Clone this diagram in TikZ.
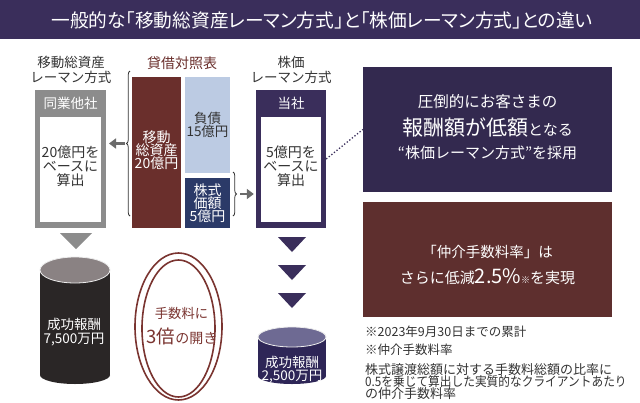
\documentclass[tikz,border=0pt]{standalone}
\usepackage{fontspec}
\setmainfont{Noto Sans CJK JP}
\newfontfamily\paltfont{Noto Sans CJK JP}[RawFeature=+palt]
\usetikzlibrary{arrows.meta,decorations.pathreplacing}
\definecolor{tpurple}{HTML}{3A2E5B}
\definecolor{bpurple}{HTML}{33294F}
\definecolor{gbox}{HTML}{8C8C8C}
\definecolor{brownA}{HTML}{6A2F2C}
\definecolor{brownB}{HTML}{5E2F2E}
\definecolor{lblue}{HTML}{BCCBE3}
\definecolor{navyb}{HTML}{2B3A68}
\definecolor{txt}{HTML}{333333}
\definecolor{cylblack}{HTML}{2A2626}
\definecolor{cyltopG}{HTML}{8A8283}
\definecolor{cyltopP}{HTML}{6E6A93}
\definecolor{cylP}{HTML}{2E2657}
\definecolor{arrowgray}{HTML}{6B6B6B}
\definecolor{ovalbrown}{HTML}{7A3430}
\newcommand{\fsz}[2]{\fontsize{#1}{#2}\selectfont}
\tikzset{
  lbl/.style={inner sep=0pt, align=center, text=txt},
  wtxt/.style={inner sep=0pt, align=center, text=white},
  fatarrow/.style={draw=arrowgray, line width=2.8pt, -{Triangle[length=7pt,width=10pt]}},
  bracestyle/.style={draw=txt, line width=0.8pt, decorate, decoration={brace, amplitude=3.5pt}},
  ring/.style={draw=ovalbrown, line width=1.6pt},
}
\begin{document}
\begin{tikzpicture}[x=1pt,y=-1pt]
\useasboundingbox (0,0) rectangle (640,402);
\fill[white] (0,0) rectangle (640,402);
% title bar
\fill[tpurple] (0,0) rectangle (640,39);
\node[wtxt, font=\paltfont\fsz{18.7}{20}] (title) at (322,20) {一般的な「移動総資産レーマン方式」と「株価レーマン方式」との違い};

% ---------- left column
\node[lbl, font=\fsz{13.5}{15}] (lblL) at (71,70) {移動総資産\\レーマン方式};
\node[fill=gbox, minimum width=71pt, minimum height=138pt, inner sep=0pt] (peerbox) at (70.5,159) {};
\fill[white] (40,117) rectangle (101,222);
\node[wtxt, font=\fsz{13.5}{15}] (peerhead) at (70.5,103) {同業他社};
\node[lbl, font=\fsz{14}{13.8}] (peertxt) at (70.5,166) {20億円を\\ベースに\\算出};

% ---------- balance sheet
\node[inner sep=0pt, text=brownA, font=\fsz{14}{15}] (bslbl) at (182,63) {貸借対照表};
\node[fill=brownA, minimum width=49pt, minimum height=151pt, inner sep=0pt] (assets) at (156.5,152.5) {};
\node[wtxt, font=\fsz{14}{13.3}] (assetstxt) at (156.5,150) {移動\\総資産\\20億円};
\node[fill=lblue, minimum width=45pt, minimum height=96pt, inner sep=0pt] (debt) at (207.5,125) {};
\node[lbl, font=\fsz{13.5}{13.3}] (debttxt) at (207.5,125) {負債\\15億円};
\node[fill=navyb, minimum width=45pt, minimum height=50pt, inner sep=0pt] (equity) at (207.5,203) {};
\node[wtxt, font=\fsz{14}{13.3}] (equitytxt) at (207.5,203) {株式\\価額\\5億円};
% braces
\draw[bracestyle] (130,216) -- (130,71);
\coordinate (braceLtip) at (125,143.5);
\coordinate (arrLend) at (109,143.5);
\draw[fatarrow] (braceLtip) -- (arrLend);
\draw[bracestyle] (233,172) -- (233,216);
\coordinate (braceRtip) at (240,194);

% ---------- right column
\node[lbl, font=\fsz{13.5}{15}] (lblR) at (291,70) {株価\\レーマン方式};
\node[fill=tpurple, minimum width=70pt, minimum height=138pt, inner sep=0pt] (ourbox) at (291,159) {};
\fill[white] (261,117) rectangle (321,222);
\node[wtxt, font=\fsz{13.5}{15}] (ourhead) at (291,103) {当社};
\node[lbl, font=\fsz{14}{13.8}] (ourtxt) at (291,166) {5億円を\\ベースに\\算出};
\draw[fatarrow, shorten >=2pt] (braceRtip) -- (ourbox.west |- braceRtip);

% ---------- message boxes
\node[fill=bpurple, minimum width=249pt, minimum height=125pt, inner sep=0pt] (msgA) at (487.5,129.5) {};
\node[wtxt, font=\fsz{15.5}{17}] (msgA1) at (487.5,102) {圧倒的にお客さまの};
\node[wtxt] (msgA2) at (487.5,127) {\fsz{21}{23}報酬額が低額\fsz{15}{17}となる};
\node[wtxt, font=\fsz{15}{17}] (msgA3) at (487.5,153) {“株価レーマン方式”を採用};
\draw[tpurple, line width=1.3pt, dotted] (ourbox.east) -- (msgA.west);

\node[fill=brownB, minimum width=249pt, minimum height=115pt, inner sep=0pt] (msgB) at (487.5,259.5) {};
\node[wtxt, font=\fsz{14.5}{16}] (msgB1) at (487.5,252) {「仲介手数料率」は};
\node[wtxt] (msgB2) at (487.5,277) {\fsz{15}{17}さらに低減\fsz{20}{22}2.5\%\fsz{9}{10}※\fsz{15}{17}を実現};

% ---------- notes
\node[inner sep=0pt, anchor=west, text=txt, font=\fsz{12.5}{14}] (note1) at (365,332) {※2023年9月30日までの累計};
\node[inner sep=0pt, anchor=west, text=txt, font=\fsz{12.5}{14}] (note2) at (365,350) {※仲介手数料率};
\node[inner sep=0pt, anchor=west, text=txt, font=\fsz{13}{14}] (note3) at (365,370) {株式譲渡総額に対する手数料総額の比率に};
\node[inner sep=0pt, anchor=west, text=txt, font=\fsz{13}{14}, xscale=0.9] (note4) at (365,382) {0.5を乗じて算出した実質的なクライアントあたり};
\node[inner sep=0pt, anchor=west, text=txt, font=\fsz{13}{14}] (note5) at (365,394) {の仲介手数料率};

% ---------- down triangles
\fill[gbox] (60,233) -- (92,233) -- (76,249) -- cycle;
\foreach \yy in {237,265,293}
  \fill[tpurple] (278,\yy) -- (306,\yy) -- (292,\yy+15) -- cycle;

% ---------- cylinders
\fill[cylblack] (40,270) rectangle (110,375);
\fill[cylblack] (75,375) ellipse [x radius=35, y radius=9];
\filldraw[fill=cyltopG, draw=white!85!gray, line width=0.8pt] (75,270) ellipse [x radius=35, y radius=13];
\node[wtxt, font=\fsz{13.5}{14.5}] (feeL) at (74,332) {成功報酬\\7,500万円};

\fill[cylP] (258,337) rectangle (326,376);
\fill[cylP] (292,376) ellipse [x radius=34, y radius=8];
\filldraw[fill=cyltopP, draw=white!85!gray, line width=0.8pt] (292,337) ellipse [x radius=34, y radius=10];
\node[wtxt, font=\fsz{13.5}{13.5}] (feeR) at (292,369.5) {成功報酬\\2,500万円};

% ---------- oval
\draw[ring] (178.5,326.5) ellipse [x radius=43.5, y radius=73.5];
\draw[ring] (178.5,328.5) ellipse [x radius=36.5, y radius=68.5];
\node[inner sep=0pt, text=ovalbrown, font=\fsz{13.3}{15}] (oval1) at (181.5,313) {手数料に};
\node[inner sep=0pt, text=ovalbrown] (oval2) at (182,336) {\fsz{18.5}{20}3倍\fsz{14}{16}の開き};
\end{tikzpicture}
\end{document}
